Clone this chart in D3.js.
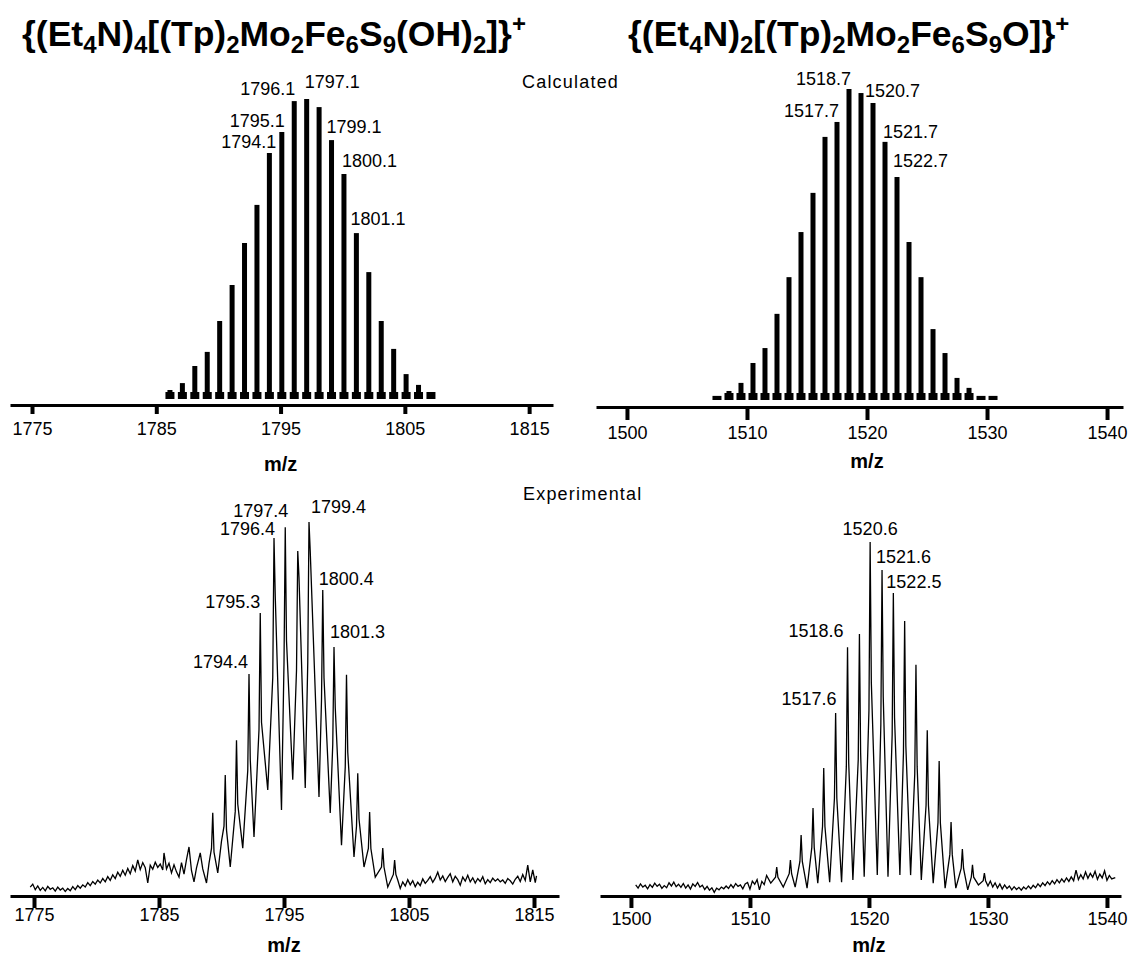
<!DOCTYPE html>
<html>
<head>
<meta charset="utf-8">
<script src="https://cdn.jsdelivr.net/npm/d3@7"></script>
<style>
  body { margin: 0; background: #fff; }
  svg { display: block; font-family: "Liberation Sans", Arial, Helvetica, sans-serif; }
</style>
</head>
<body>
<svg id="chart"></svg>
<script>
// ---- data ----
// titles: [text, "sub" | "sup" | undefined]
const titleLeft = [["{(Et"], ["4", "sub"], ["N)"], ["4", "sub"], ["[(Tp)"], ["2", "sub"], ["Mo"], ["2", "sub"],
  ["Fe"], ["6", "sub"], ["S"], ["9", "sub"], ["(OH)"], ["2", "sub"], ["]}"], ["+", "sup"]];
const titleRight = [["{(Et"], ["4", "sub"], ["N)"], ["2", "sub"], ["[(Tp)"], ["2", "sub"], ["Mo"], ["2", "sub"],
  ["Fe"], ["6", "sub"], ["S"], ["9", "sub"], ["O]}"], ["+", "sup"]];

const ticksLeft = [1775, 1785, 1795, 1805, 1815];
const ticksRight = [1500, 1510, 1520, 1530, 1540];

// calculated isotope pattern, left compound (m/z, relative intensity %)
const calcLeftMz = [1786.1, 1787.1, 1788.1, 1789.1, 1790.1, 1791.1, 1792.1, 1793.1, 1794.1, 1795.1, 1796.1,
  1797.1, 1798.1, 1799.1, 1800.1, 1801.1, 1802.1, 1803.1, 1804.1, 1805.1, 1806.1, 1807.1];
const calcLeftInt = [3, 5.3, 11, 15.7, 26, 38, 52, 64.7, 82, 89, 99.3,
  100, 97.3, 86.3, 75, 55.3, 42.3, 26, 16.7, 8.3, 4.7, 2];
const calcLeftLabels = ["1794.1", "1795.1", "1796.1", "1797.1", "1799.1", "1800.1", "1801.1"];
const calcLeftLabelMz = [1794.1, 1795.1, 1796.1, 1797.1, 1799.1, 1800.1, 1801.1];

// calculated isotope pattern, right compound (positions as drawn against the axis)
const calcRightMz = [1507.5, 1508.5, 1509.5, 1510.5, 1511.5, 1512.5, 1513.5, 1514.5, 1515.5, 1516.5, 1517.5,
  1518.5, 1519.5, 1520.5, 1521.5, 1522.5, 1523.5, 1524.5, 1525.5, 1526.5, 1527.5, 1528.5, 1529.5, 1530.5];
const calcRightInt = [1, 2.9, 5.5, 11.9, 16.7, 27.7, 39.5, 54, 66.6, 84.6, 89.4,
  100, 98.7, 95.5, 83, 71.7, 50.8, 39.5, 22.8, 15.1, 7.1, 3.9, 1, 1];
const calcRightLabels = ["1517.7", "1518.7", "1520.7", "1521.7", "1522.7"];
const calcRightLabelMz = [1517.5, 1518.5, 1520.5, 1521.5, 1522.5];

// experimental trace, left compound: [m/z as drawn, relative intensity %]
const expLeft = [
  [1774.7, 1.6], [1774.9, 2.4], [1775.1, 0.9], [1775.3, 1.9], [1775.5, 0.7], [1775.7, 1.5], [1775.9, 0.6],
  [1776.1, 1.8], [1776.3, 1.0], [1776.5, 1.4], [1776.7, 0.5], [1776.9, 1.6], [1777.1, 0.8], [1777.3, 1.3],
  [1777.5, 0.4], [1777.7, 1.2], [1777.9, 0.6], [1778.1, 1.7], [1778.3, 0.9], [1778.5, 2.0], [1778.7, 1.3],
  [1778.9, 2.2], [1779.1, 1.6], [1779.3, 2.8], [1779.5, 2.0], [1779.7, 3.1], [1779.9, 2.4], [1780.1, 3.5],
  [1780.3, 2.7], [1780.5, 3.9], [1780.7, 3.0], [1780.9, 4.4], [1781.1, 3.4], [1781.3, 4.9], [1781.5, 3.9],
  [1781.7, 5.6], [1781.9, 4.5], [1782.1, 6.1], [1782.3, 4.8], [1782.5, 6.6], [1782.7, 5.2], [1782.9, 7.4],
  [1783.1, 5.9], [1783.3, 8.9], [1783.5, 6.3], [1783.7, 8.2], [1783.9, 6.8], [1784.1, 2.7], [1784.3, 7.5],
  [1784.5, 6.4], [1784.7, 8.3], [1784.9, 6.9], [1785.1, 7.8], [1785.3, 6.2], [1785.4, 10.8], [1785.6, 6.5],
  [1785.8, 8.0], [1786.0, 5.4], [1786.2, 7.6], [1786.4, 5.7], [1786.6, 4.3], [1786.8, 8.2], [1787.0, 5.1],
  [1787.2, 9.0], [1787.4, 12.4], [1787.6, 6.0], [1787.8, 3.0], [1788.0, 6.8], [1788.3, 10.8], [1788.5, 6.5],
  [1788.8, 2.7], [1789.0, 8.0], [1789.2, 12], [1789.3, 21.6], [1789.4, 11], [1789.7, 5.4], [1790.0, 14.0],
  [1790.2, 18], [1790.3, 31.8], [1790.4, 17], [1790.7, 7.0], [1791.1, 22], [1791.2, 41.2], [1791.3, 24],
  [1791.7, 12.1], [1792.1, 33], [1792.2, 59], [1792.3, 36], [1792.6, 15.1], [1793.0, 44], [1793.1, 75.5],
  [1793.2, 46], [1793.7, 27.8], [1794.1, 58], [1794.2, 95.7], [1794.3, 80], [1794.8, 22.4], [1795.0, 62],
  [1795.1, 98.6], [1795.2, 68], [1795.7, 30.5], [1796.0, 60], [1796.1, 92.2], [1796.2, 85], [1796.7, 28.3],
  [1796.9, 62], [1797.0, 100], [1797.1, 92], [1797.8, 25.9], [1798.0, 52], [1798.1, 81.7], [1798.2, 58],
  [1798.7, 21.6], [1798.9, 40], [1799.0, 66.3], [1799.1, 50], [1799.6, 12.9], [1799.9, 34], [1800.0, 58.8],
  [1800.1, 38], [1800.6, 9.7], [1800.8, 18], [1800.9, 32.3], [1801.0, 20], [1801.4, 7.0], [1801.75, 12],
  [1801.85, 21.8], [1801.95, 12], [1802.3, 4.3], [1802.8, 7], [1802.9, 12.1], [1803.0, 7], [1803.3, 1.6],
  [1803.75, 5], [1803.85, 8.9], [1803.95, 5], [1804.1, 3.5], [1804.3, 1.2], [1804.5, 3.0], [1804.7, 1.9],
  [1804.9, 3.6], [1805.1, 2.2], [1805.3, 3.3], [1805.5, 1.7], [1805.7, 2.9], [1805.9, 2.0], [1806.1, 3.8],
  [1806.3, 2.6], [1806.5, 3.4], [1806.7, 4.4], [1806.9, 2.9], [1807.1, 4.0], [1807.3, 5.6], [1807.5, 3.5],
  [1807.7, 4.6], [1807.9, 3.1], [1808.1, 4.2], [1808.3, 5.2], [1808.5, 3.0], [1808.7, 4.5], [1808.9, 3.6],
  [1809.1, 2.1], [1809.3, 4.3], [1809.5, 3.2], [1809.7, 4.8], [1809.9, 3.0], [1810.1, 4.1], [1810.3, 2.7],
  [1810.5, 3.9], [1810.7, 3.1], [1810.9, 4.4], [1811.1, 2.5], [1811.3, 3.6], [1811.5, 2.8], [1811.7, 4.0],
  [1811.9, 3.2], [1812.1, 3.8], [1812.3, 3.0], [1812.5, 3.5], [1812.7, 2.6], [1812.9, 3.9], [1813.1, 3.3],
  [1813.3, 2.4], [1813.5, 3.7], [1813.7, 4.5], [1813.9, 3.1], [1814.1, 5.0], [1814.3, 3.4], [1814.5, 7.5],
  [1814.7, 3.0], [1814.9, 6.2], [1815.1, 2.8], [1815.2, 4.6]
];
const expLeftLabels = ["1794.4", "1795.3", "1796.4", "1797.4", "1799.4", "1800.4", "1801.3"];
const expLeftLabelMz = [1792.2, 1793.1, 1794.2, 1795.1, 1797.0, 1798.1, 1799.0];

// experimental trace, right compound
const expRight = [
  [1500.4, 2.3], [1500.6, 1.4], [1500.8, 2.6], [1501.0, 1.7], [1501.2, 2.2], [1501.4, 1.2], [1501.6, 2.4],
  [1501.8, 1.6], [1502.0, 2.8], [1502.2, 1.9], [1502.4, 2.5], [1502.6, 1.3], [1502.8, 2.1], [1503.0, 1.5],
  [1503.2, 2.9], [1503.4, 2.0], [1503.6, 3.1], [1503.8, 1.8], [1504.0, 2.5], [1504.2, 1.6], [1504.4, 2.7],
  [1504.6, 1.4], [1504.8, 2.3], [1505.0, 1.1], [1505.2, 2.6], [1505.4, 1.9], [1505.6, 3.0], [1505.8, 1.7],
  [1506.0, 2.2], [1506.2, 1.0], [1506.4, 1.9], [1506.6, 0.8], [1506.8, 1.5], [1507.0, 0.2], [1507.2, 1.4],
  [1507.4, 0.9], [1507.6, 1.7], [1507.8, 1.2], [1508.0, 2.0], [1508.2, 1.3], [1508.4, 2.4], [1508.6, 1.5],
  [1508.8, 2.7], [1509.0, 1.9], [1509.2, 2.3], [1509.4, 1.2], [1509.6, 2.6], [1509.8, 3.0], [1510.0, 1.1],
  [1510.2, 3.4], [1510.4, 2.5], [1510.6, 3.8], [1510.8, 0.9], [1511.0, 3.3], [1511.2, 2.4], [1511.4, 5.0],
  [1511.75, 2.8], [1512.15, 4.5], [1512.25, 7.4], [1512.35, 4.5], [1512.8, 1.7], [1513.3, 5.5], [1513.4, 9.4],
  [1513.5, 5.5], [1513.8, 1.7], [1514.2, 9], [1514.3, 16.5], [1514.4, 9], [1514.8, 1.4], [1515.2, 13],
  [1515.3, 24.2], [1515.4, 13], [1515.7, 2.8], [1516.1, 19], [1516.2, 35.6], [1516.3, 19], [1516.7, 3.1],
  [1517.1, 27], [1517.2, 51.3], [1517.3, 27], [1517.7, 3.1], [1518.1, 36], [1518.2, 70], [1518.3, 37],
  [1518.65, 3.7], [1519.1, 38], [1519.2, 73.8], [1519.3, 40], [1519.6, 4.6], [1520.0, 52], [1520.1, 100],
  [1520.2, 60], [1520.7, 5.1], [1521.0, 48], [1521.1, 92], [1521.2, 56], [1521.6, 4.6], [1521.95, 45],
  [1522.05, 85.5], [1522.15, 50], [1522.6, 5.1], [1522.9, 40], [1523.0, 77.5], [1523.1, 42], [1523.5, 5.1],
  [1523.85, 34], [1523.95, 65], [1524.05, 36], [1524.4, 3.7], [1524.8, 25], [1524.9, 46.4], [1525.0, 25],
  [1525.4, 2.8], [1525.8, 20], [1525.9, 37.6], [1526.0, 20], [1526.4, 1.4], [1526.8, 11], [1526.9, 20.2],
  [1527.0, 11], [1527.3, 1.4], [1527.75, 7], [1527.85, 12.5], [1527.95, 7], [1528.3, 0.9], [1528.6, 4.5],
  [1528.7, 8], [1528.8, 4.5], [1529.2, 2.3], [1529.6, 3.5], [1529.7, 5.7], [1529.8, 3.5], [1530.0, 2.0],
  [1530.2, 3.4], [1530.4, 1.7], [1530.6, 2.9], [1530.8, 1.4], [1531.0, 2.6], [1531.2, 1.1], [1531.4, 2.3],
  [1531.6, 1.3], [1531.8, 2.0], [1532.0, 0.9], [1532.2, 1.8], [1532.4, 1.0], [1532.6, 1.6], [1532.8, 0.8],
  [1533.0, 1.7], [1533.2, 1.1], [1533.4, 2.0], [1533.6, 1.2], [1533.8, 2.2], [1534.0, 1.5], [1534.2, 2.6],
  [1534.4, 1.8], [1534.6, 2.9], [1534.8, 2.1], [1535.0, 3.2], [1535.2, 2.4], [1535.4, 3.5], [1535.6, 2.6],
  [1535.8, 3.8], [1536.0, 2.9], [1536.2, 4.0], [1536.4, 3.1], [1536.6, 4.3], [1536.8, 3.3], [1537.0, 4.6],
  [1537.2, 3.5], [1537.4, 6.5], [1537.6, 3.8], [1537.8, 5.2], [1538.0, 4.0], [1538.2, 6.0], [1538.4, 4.2],
  [1538.6, 5.6], [1538.8, 4.5], [1539.0, 6.2], [1539.2, 3.9], [1539.4, 5.4], [1539.6, 4.3], [1539.8, 6.3],
  [1540.0, 3.6], [1540.2, 5.0], [1540.4, 4.0], [1540.7, 4.4]
];
const expRightLabels = ["1517.6", "1518.6", "1520.6", "1521.6", "1522.5"];
const expRightLabelMz = [1517.2, 1518.2, 1520.1, 1521.1, 1522.05];

// ---- layout ----
const w = 1129;
const h = 960;
const font = 18;

const svg = d3.select("#chart").attr("width", w).attr("height", h);

// label placement next to each peak: [anchor, dx, dy above the peak top]
const calcLeftPlace = [["end", 7, -5], ["end", 3, -5], ["end", 1, -6], ["start", -2, -11], ["start", -5, -7], ["start", -2, -7], ["start", -6, -8]];
const calcRightPlace = [["end", 2, -5], ["end", 2, -4], ["start", -8, -6], ["start", -2, -4], ["start", -4, -10]];
const expLeftPlace = [["end", -1, -6], ["end", 0, -5], ["end", 1, -3], ["end", 3, -10], ["start", 2, -9], ["start", -4, -5], ["start", -4, -9]];
const expRightPlace = [["end", 1, -8], ["end", -4, -10], ["middle", 0, -7], ["start", -6, -7], ["start", -7, -5]];

function drawTitle(parts, x, y) {
  const t = svg.append("text").attr("x", x).attr("y", y)
    .attr("font-size", 35.5).attr("font-weight", "bold").attr("fill", "#000");
  let shift = 0;
  parts.forEach((p) => {
    const target = p[1] === "sub" ? 7 : p[1] === "sup" ? -14 : 0;
    t.append("tspan")
      .attr("dy", target - shift)
      .attr("font-size", p[1] ? 24 : 35.5)
      .text(p[0]);
    shift = target;
  });
}

function drawAxis(x, y0, tickLen, labelY, ticks, titleY) {
  const axis = d3.axisBottom(x).tickValues(ticks).tickSizeInner(tickLen).tickSizeOuter(0).tickFormat(d3.format("d"));
  const g = svg.append("g").attr("transform", `translate(0, ${y0})`).call(axis);
  g.attr("font-family", null).attr("font-size", null);
  g.select(".domain").attr("stroke", "#000").attr("stroke-width", 3);
  g.selectAll(".tick line").attr("stroke", "#000").attr("stroke-width", 4);
  g.selectAll(".tick text").attr("y", labelY - y0).attr("dy", 0).attr("fill", "#000").attr("font-size", font);
  const mid = (ticks[0] + ticks[ticks.length - 1]) / 2;
  svg.append("text").attr("x", x(mid)).attr("y", titleY).attr("text-anchor", "middle")
    .attr("font-size", 20).attr("font-weight", "bold").text("m/z");
}

function drawLabels(texts, mzs, ints, place, x, y) {
  texts.forEach((txt, i) => {
    const p = place[i];
    svg.append("text")
      .attr("x", x(mzs[i]) + p[1])
      .attr("y", y(ints[i]) + p[2])
      .attr("text-anchor", p[0])
      .attr("font-size", font)
      .text(txt);
  });
}

function drawCalc(mz, ints, x, y) {
  const peaks = mz.map((m, i) => ({ m: m, v: ints[i] }));
  const base = y(0);
  svg.append("g").selectAll("rect.bar").data(peaks).enter().append("rect")
    .attr("class", "bar")
    .attr("x", (d) => x(d.m) - 2.5)
    .attr("y", (d) => y(d.v))
    .attr("width", 5)
    .attr("height", (d) => base - y(d.v))
    .attr("fill", "#000");
  svg.append("g").selectAll("rect.foot").data(peaks).enter().append("rect")
    .attr("class", "foot")
    .attr("x", (d) => x(d.m) - 4.5)
    .attr("y", (d) => base - Math.min(7, base - y(d.v) + 1))
    .attr("width", 9)
    .attr("height", (d) => Math.min(7, base - y(d.v) + 1))
    .attr("fill", "#000");
}

function drawExp(trace, x, y) {
  const line = d3.line().x((d) => x(d[0])).y((d) => y(d[1]));
  svg.append("path").datum(trace).attr("d", line)
    .attr("fill", "none").attr("stroke", "#000").attr("stroke-width", 1.3);
}

// titles
drawTitle(titleLeft, 22, 46);
drawTitle(titleRight, 628, 46);

svg.append("text").attr("x", 522).attr("y", 88).attr("font-size", font).attr("letter-spacing", 1.2).text("Calculated");
svg.append("text").attr("x", 523).attr("y", 500).attr("font-size", font).attr("letter-spacing", 1.2).text("Experimental");

// top left: calculated
const xCL = d3.scaleLinear().domain([1773.23, 1816.92]).range([10, 553]);
const yCL = d3.scaleLinear().domain([0, 100]).range([399, 99]);
drawCalc(calcLeftMz, calcLeftInt, xCL, yCL);
drawAxis(xCL, 405, 9, 435, ticksLeft, 471);
drawLabels(calcLeftLabels, calcLeftLabelMz,
  calcLeftLabelMz.map((m) => calcLeftInt[calcLeftMz.indexOf(m)]), calcLeftPlace, xCL, yCL);

// top right: calculated
const xCR = d3.scaleLinear().domain([1497.42, 1541.33]).range([596, 1123]);
const yCR = d3.scaleLinear().domain([0, 100]).range([400, 89]);
drawCalc(calcRightMz, calcRightInt, xCR, yCR);
drawAxis(xCR, 407, 13, 439, ticksRight, 468);
drawLabels(calcRightLabels, calcRightLabelMz,
  calcRightLabelMz.map((m) => calcRightInt[calcRightMz.indexOf(m)]), calcRightPlace, xCR, yCR);

// bottom left: experimental
const xEL = d3.scaleLinear().domain([1773.08, 1817.0]).range([10, 559]);
const yEL = d3.scaleLinear().domain([0, 100]).range([893, 522]);
drawExp(expLeft, xEL, yEL);
drawAxis(xEL, 896, 12, 921, ticksLeft, 952);
drawLabels(expLeftLabels, expLeftLabelMz,
  expLeftLabelMz.map((m) => expLeft.find((d) => d[0] === m)[1]), expLeftPlace, xEL, yEL);

// bottom right: experimental
const xER = d3.scaleLinear().domain([1497.4, 1541.18]).range([600, 1121]);
const yER = d3.scaleLinear().domain([0, 100]).range([893, 542]);
drawExp(expRight, xER, yER);
drawAxis(xER, 896, 12, 925, ticksRight, 952);
drawLabels(expRightLabels, expRightLabelMz,
  expRightLabelMz.map((m) => expRight.find((d) => d[0] === m)[1]), expRightPlace, xER, yER);
</script>
</body>
</html>
